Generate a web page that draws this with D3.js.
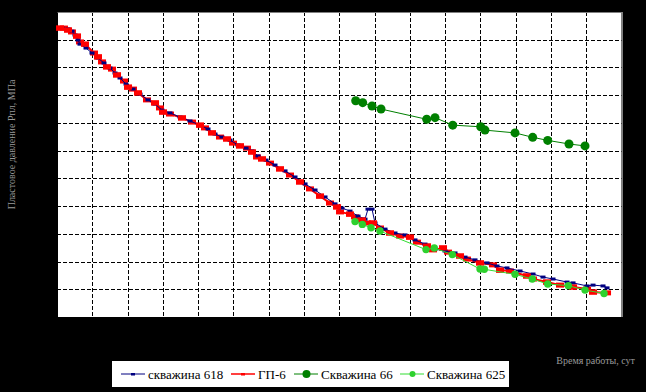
<!DOCTYPE html>
<html>
<head>
<meta charset="utf-8">
<script src="https://cdn.jsdelivr.net/npm/d3@7"></script>
<style>
  body { margin: 0; background: #000; }
  svg { display: block; }
</style>
</head>
<body>
<svg id="chart"></svg>
<script>
const width = 646;
const height = 392;

// скважина 618 [x, y]
const well618 = [
  [0.142, 10.42], [0.312, 10.39], [0.425, 10.31], [0.510, 10.17], [0.595, 9.99],
  [0.652, 9.84], [0.822, 9.70], [0.992, 9.52], [1.162, 9.34], [1.332, 9.16],
  [1.502, 8.98], [1.644, 8.80], [1.786, 8.62], [1.956, 8.40], [2.154, 8.22],
  [2.353, 8.04], [2.579, 7.83], [2.778, 7.68], [2.976, 7.46], [3.203, 7.36],
  [3.486, 7.21], [3.770, 7.07], [4.053, 6.92], [4.280, 6.78], [4.478, 6.60],
  [4.677, 6.49], [4.904, 6.38], [5.130, 6.20], [5.357, 6.09], [5.527, 5.99],
  [5.697, 5.81], [5.924, 5.66], [6.179, 5.48], [6.463, 5.27], [6.746, 5.05],
  [7.030, 4.80], [7.313, 4.58], [7.596, 4.33], [7.880, 4.08], [8.078, 3.93],
  [8.305, 3.82], [8.532, 3.64], [8.730, 3.53], [8.815, 3.89], [8.929, 3.89],
  [9.014, 3.39], [9.297, 3.17], [9.580, 3.03], [9.864, 2.96], [10.147, 2.78],
  [10.431, 2.63], [10.714, 2.45], [10.998, 2.38], [11.281, 2.31], [11.565, 2.16],
  [11.848, 2.06], [12.188, 1.95], [12.472, 1.84], [12.755, 1.77], [13.124, 1.66],
  [13.492, 1.55], [13.775, 1.44], [14.059, 1.37], [14.456, 1.26], [14.626, 1.23],
  [15.023, 1.12], [15.193, 1.15], [15.476, 1.12], [15.590, 1.05]
];

// ГП-6
const gp6 = [
  [0.085, 10.42], [0.198, 10.42], [0.312, 10.35], [0.425, 10.28], [0.567, 10.13],
  [0.652, 9.92], [0.794, 9.84], [1.049, 9.52], [1.162, 9.38], [1.276, 9.20],
  [1.417, 9.02], [1.559, 8.94], [1.701, 8.73], [1.899, 8.51], [2.013, 8.29],
  [2.154, 8.22], [2.296, 8.08], [2.551, 7.83], [2.778, 7.72], [2.919, 7.54],
  [3.005, 7.39], [3.203, 7.32], [3.543, 7.18], [3.827, 7.03], [4.053, 6.92],
  [4.195, 6.82], [4.393, 6.64], [4.620, 6.49], [4.819, 6.42], [4.989, 6.27],
  [5.187, 6.17], [5.385, 6.09], [5.527, 5.95], [5.669, 5.77], [5.811, 5.70],
  [6.037, 5.55], [6.321, 5.34], [6.604, 5.12], [6.888, 4.87], [7.171, 4.62],
  [7.455, 4.36], [7.738, 4.11], [7.937, 3.97], [8.022, 3.79], [8.305, 3.71],
  [8.447, 3.61], [8.645, 3.50], [8.787, 3.39], [8.957, 3.39], [9.155, 3.21],
  [9.439, 3.03], [9.722, 2.92], [10.006, 2.88], [10.204, 2.70], [10.488, 2.56],
  [10.658, 2.42], [10.941, 2.49], [11.083, 2.34], [11.423, 2.20], [11.621, 2.09],
  [11.990, 1.95], [12.358, 1.88], [12.557, 1.69], [12.840, 1.66], [13.322, 1.48],
  [13.492, 1.37], [13.889, 1.26], [14.257, 1.15], [14.626, 1.08], [15.023, 1.01],
  [15.193, 0.90], [15.590, 0.87]
];

// Скважина 66
const well66 = [
  [8.466, 7.80], [8.665, 7.73], [8.929, 7.61], [9.184, 7.50], [10.479, 7.13],
  [10.714, 7.19], [11.216, 6.92], [12.009, 6.86], [12.131, 6.74], [12.982, 6.64],
  [13.483, 6.48], [13.909, 6.37], [14.512, 6.24], [14.966, 6.17]
];

// Скважина 625
const well625 = [
  [8.447, 3.44], [8.654, 3.34], [8.900, 3.22], [9.155, 3.10], [10.459, 2.43],
  [10.694, 2.49], [11.205, 2.25], [11.990, 1.73], [12.112, 1.72], [12.982, 1.54],
  [13.472, 1.37], [13.909, 1.19], [14.493, 1.13], [14.966, 0.97], [15.505, 0.85]
];

const xTicks = d3.range(0, 17, 1);
const yTicks = d3.range(0, 12, 1);

const legendNames = ["скважина 618", "ГП-6", "Скважина 66", "Скважина 625"];
const xTitle = "Время работы, сут";
const yTitle = "Пластовое давление Рпл, МПа";

const margin = {left: 57, top: 12, right: 24.5, bottom: 75};
const plotW = width - margin.left - margin.right;
const plotH = height - margin.top - margin.bottom;

const svg = d3.select("#chart")
    .attr("width", width)
    .attr("height", height);

svg.append("rect").attr("width", width).attr("height", height).attr("fill", "#000");

const x = d3.scaleLinear().domain([0, 16]).range([margin.left, margin.left + plotW]);
const y = d3.scaleLinear().domain([0, 11]).range([margin.top + plotH, margin.top]);

// plot area
svg.append("rect")
    .attr("x", x(0)).attr("y", y(11))
    .attr("width", plotW).attr("height", plotH)
    .attr("fill", "#fff");

// grid
const grid = svg.append("g").attr("stroke", "#000").attr("stroke-dasharray", "4,2").attr("stroke-width", 1);
grid.selectAll("line.v")
    .data(xTicks.slice(1, -1))
    .enter().append("line")
    .attr("x1", d => Math.round(x(d)) + 0.5).attr("x2", d => Math.round(x(d)) + 0.5)
    .attr("y1", y(11)).attr("y2", y(0));
grid.selectAll("line.h")
    .data(yTicks.slice(1, -1))
    .enter().append("line")
    .attr("y1", d => Math.round(y(d)) + 0.5).attr("y2", d => Math.round(y(d)) + 0.5)
    .attr("x1", x(0)).attr("x2", x(16));

// frame (top and right visible gray)
svg.append("line")
    .attr("x1", x(0)).attr("x2", x(16))
    .attr("y1", Math.round(y(11)) + 0.5).attr("y2", Math.round(y(11)) + 0.5)
    .attr("stroke", "#808080");
svg.append("line")
    .attr("x1", Math.round(x(16)) + 0.5).attr("x2", Math.round(x(16)) + 0.5)
    .attr("y1", y(11)).attr("y2", y(0))
    .attr("stroke", "#808080");

// axes (black on black, like the source)
svg.append("g")
    .attr("transform", `translate(0,${y(0)})`)
    .call(d3.axisBottom(x).tickValues(xTicks).tickSize(0))
    .call(g => g.select(".domain").attr("stroke", "#000"))
    .call(g => g.selectAll("text").attr("fill", "#000"));
svg.append("g")
    .attr("transform", `translate(${x(0)},0)`)
    .call(d3.axisLeft(y).tickValues(yTicks).tickSize(0))
    .call(g => g.select(".domain").attr("stroke", "#000"))
    .call(g => g.selectAll("text").attr("fill", "#000"));

const line = d3.line().x(d => x(d[0])).y(d => y(d[1]));

// ГП-6
svg.append("path").datum(gp6)
    .attr("d", line).attr("fill", "none")
    .attr("stroke", "#ff0000").attr("stroke-width", 2);
svg.append("g").selectAll("rect")
    .data(gp6)
    .enter().append("rect")
    .attr("x", d => x(d[0]) - 4).attr("y", d => y(d[1]) - 2.5)
    .attr("width", 8).attr("height", 5)
    .attr("fill", "#ff0000");

// скважина 618
svg.append("path").datum(well618)
    .attr("d", line).attr("fill", "none")
    .attr("stroke", "#000080").attr("stroke-width", 1);
svg.append("g").selectAll("rect")
    .data(well618)
    .enter().append("rect")
    .attr("x", d => x(d[0]) - 2.5).attr("y", d => y(d[1]) - 1.5)
    .attr("width", 5).attr("height", 3)
    .attr("fill", "#000080");

// ГП-6 markers redrawn on top partly (red dominates in the source)
svg.append("g").selectAll("rect")
    .data(gp6.filter((d, i) => i % 2 === 0))
    .enter().append("rect")
    .attr("x", d => x(d[0]) - 4).attr("y", d => y(d[1]) - 2.5)
    .attr("width", 8).attr("height", 5)
    .attr("fill", "#ff0000");

// Скважина 66
svg.append("path").datum(well66)
    .attr("d", line).attr("fill", "none")
    .attr("stroke", "#008000").attr("stroke-width", 1);
svg.append("g").selectAll("circle")
    .data(well66)
    .enter().append("circle")
    .attr("cx", d => x(d[0])).attr("cy", d => y(d[1]))
    .attr("r", 4.5).attr("fill", "#008000");

// Скважина 625
svg.append("path").datum(well625)
    .attr("d", line).attr("fill", "none")
    .attr("stroke", "#33dd33").attr("stroke-width", 1);
svg.append("g").selectAll("circle")
    .data(well625)
    .enter().append("circle")
    .attr("cx", d => x(d[0])).attr("cy", d => y(d[1]))
    .attr("r", 3.7).attr("fill", "#2ed12e");

// axis titles
svg.append("text")
    .attr("transform", `translate(15,${(y(11) + y(0)) / 2 - 20}) rotate(-90)`)
    .attr("text-anchor", "middle")
    .attr("font-family", "Liberation Serif")
    .attr("font-size", 10)
    .attr("fill", "#999")
    .text(yTitle);
svg.append("text")
    .attr("x", 635).attr("y", 364)
    .attr("text-anchor", "end")
    .attr("font-family", "Liberation Serif")
    .attr("font-size", 10)
    .attr("fill", "#999")
    .text(xTitle);

// legend
const legend = svg.append("g");
legend.append("rect")
    .attr("x", 112).attr("y", 361)
    .attr("width", 397).attr("height", 26)
    .attr("fill", "#fff");

const legendItems = [
  {name: legendNames[0], color: "#000080", x0: 121, marker: "dash"},
  {name: legendNames[1], color: "#ff0000", x0: 231, marker: "dash"},
  {name: legendNames[2], color: "#008000", x0: 294, marker: "big"},
  {name: legendNames[3], color: "#33dd33", x0: 400, marker: "small"}
];
const ly = 374;
legendItems.forEach(it => {
  legend.append("line")
      .attr("x1", it.x0).attr("x2", it.x0 + 24)
      .attr("y1", ly).attr("y2", ly)
      .attr("stroke", it.color).attr("stroke-width", it.color === "#ff0000" ? 1.5 : 1);
  if (it.marker === "dash") {
    legend.append("rect")
        .attr("x", it.x0 + 10).attr("y", ly - 1)
        .attr("width", 4).attr("height", 2.5)
        .attr("fill", it.color);
  } else {
    legend.append("circle")
        .attr("cx", it.x0 + 12.5).attr("cy", ly)
        .attr("r", it.marker === "big" ? 4 : 3)
        .attr("fill", it.marker === "big" ? it.color : "#2ed12e");
  }
  legend.append("text")
      .attr("x", it.x0 + 27).attr("y", ly + 4.5)
      .attr("font-family", "Liberation Serif")
      .attr("font-size", 13)
      .attr("fill", "#000")
      .text(it.name);
});
</script>
</body>
</html>
